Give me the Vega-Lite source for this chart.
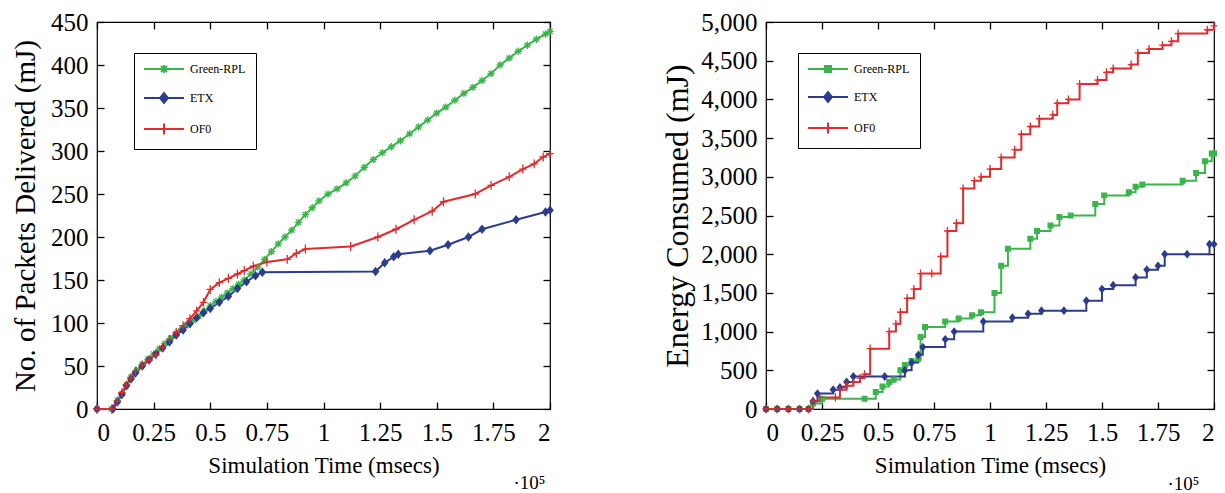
{
  "$schema": "https://vega.github.io/schema/vega-lite/v6.json",
  "padding": {"top": 9, "left": 10, "right": 5, "bottom": 0},
  "background": "#ffffff",
  "spacing": 104,
  "config": {
    "view": {"stroke": "#000000", "strokeWidth": 1.2},
    "font": "Liberation Serif",
    "axis": {
      "labelFont": "Liberation Serif", "titleFont": "Liberation Serif",
      "labelFontSize": 25, "titleFontSize": 23, "titleFontWeight": "normal",
      "labelColor": "#000000", "titleColor": "#000000", "tickColor": "#000000",
      "grid": false, "domain": false, "ticks": true, "tickSize": -7, "tickWidth": 1.3, "tickOpacity": 1, "offset": 0, "zindex": 1
    },
    "legend": {
      "labelFont": "Liberation Serif", "labelFontSize": 12, "labelColor": "#000000",
      "strokeColor": "#000000", "fillColor": "#ffffff", "padding": 10,
      "symbolSize": 100, "symbolOffset": 14, "labelOffset": 20, "rowPadding": 12, "symbolStrokeWidth": 2
    }
  },
  "datasets": {
    "packets": [
      {"series": "Green-RPL", "t": 0, "v": 0}, {"series": "Green-RPL", "t": 0.063, "v": 0}, {"series": "Green-RPL", "t": 0.09, "v": 10}, {"series": "Green-RPL", "t": 0.11, "v": 18}, {"series": "Green-RPL", "t": 0.13, "v": 28}, {"series": "Green-RPL", "t": 0.15, "v": 37}, {"series": "Green-RPL", "t": 0.175, "v": 45}, {"series": "Green-RPL", "t": 0.2, "v": 52}, {"series": "Green-RPL", "t": 0.225, "v": 58}, {"series": "Green-RPL", "t": 0.25, "v": 64}, {"series": "Green-RPL", "t": 0.275, "v": 70}, {"series": "Green-RPL", "t": 0.3, "v": 76}, {"series": "Green-RPL", "t": 0.325, "v": 82}, {"series": "Green-RPL", "t": 0.35, "v": 88}, {"series": "Green-RPL", "t": 0.375, "v": 93}, {"series": "Green-RPL", "t": 0.4, "v": 98}, {"series": "Green-RPL", "t": 0.425, "v": 103}, {"series": "Green-RPL", "t": 0.45, "v": 108}, {"series": "Green-RPL", "t": 0.475, "v": 114}, {"series": "Green-RPL", "t": 0.5, "v": 120}, {"series": "Green-RPL", "t": 0.525, "v": 125}, {"series": "Green-RPL", "t": 0.55, "v": 130}, {"series": "Green-RPL", "t": 0.575, "v": 135}, {"series": "Green-RPL", "t": 0.6, "v": 140}, {"series": "Green-RPL", "t": 0.625, "v": 145}, {"series": "Green-RPL", "t": 0.65, "v": 150}, {"series": "Green-RPL", "t": 0.68, "v": 157}, {"series": "Green-RPL", "t": 0.71, "v": 165}, {"series": "Green-RPL", "t": 0.74, "v": 174}, {"series": "Green-RPL", "t": 0.77, "v": 183}, {"series": "Green-RPL", "t": 0.8, "v": 192}, {"series": "Green-RPL", "t": 0.83, "v": 200}, {"series": "Green-RPL", "t": 0.86, "v": 208}, {"series": "Green-RPL", "t": 0.89, "v": 217}, {"series": "Green-RPL", "t": 0.92, "v": 226}, {"series": "Green-RPL", "t": 0.95, "v": 234}, {"series": "Green-RPL", "t": 0.98, "v": 242}, {"series": "Green-RPL", "t": 1.02, "v": 250}, {"series": "Green-RPL", "t": 1.06, "v": 256}, {"series": "Green-RPL", "t": 1.1, "v": 263}, {"series": "Green-RPL", "t": 1.14, "v": 271}, {"series": "Green-RPL", "t": 1.18, "v": 281}, {"series": "Green-RPL", "t": 1.22, "v": 290}, {"series": "Green-RPL", "t": 1.26, "v": 298}, {"series": "Green-RPL", "t": 1.3, "v": 305}, {"series": "Green-RPL", "t": 1.34, "v": 312}, {"series": "Green-RPL", "t": 1.38, "v": 320}, {"series": "Green-RPL", "t": 1.42, "v": 328}, {"series": "Green-RPL", "t": 1.46, "v": 336}, {"series": "Green-RPL", "t": 1.5, "v": 344}, {"series": "Green-RPL", "t": 1.54, "v": 351}, {"series": "Green-RPL", "t": 1.58, "v": 359}, {"series": "Green-RPL", "t": 1.62, "v": 367}, {"series": "Green-RPL", "t": 1.66, "v": 374}, {"series": "Green-RPL", "t": 1.7, "v": 382}, {"series": "Green-RPL", "t": 1.74, "v": 390}, {"series": "Green-RPL", "t": 1.78, "v": 400}, {"series": "Green-RPL", "t": 1.82, "v": 408}, {"series": "Green-RPL", "t": 1.86, "v": 416}, {"series": "Green-RPL", "t": 1.9, "v": 423}, {"series": "Green-RPL", "t": 1.94, "v": 430}, {"series": "Green-RPL", "t": 1.98, "v": 436}, {"series": "Green-RPL", "t": 2.0, "v": 439},
      {"series": "ETX", "t": 0, "v": 0}, {"series": "ETX", "t": 0.07, "v": 0}, {"series": "ETX", "t": 0.09, "v": 8}, {"series": "ETX", "t": 0.11, "v": 17}, {"series": "ETX", "t": 0.13, "v": 27}, {"series": "ETX", "t": 0.15, "v": 35}, {"series": "ETX", "t": 0.17, "v": 42}, {"series": "ETX", "t": 0.2, "v": 50}, {"series": "ETX", "t": 0.23, "v": 57}, {"series": "ETX", "t": 0.26, "v": 64}, {"series": "ETX", "t": 0.29, "v": 71}, {"series": "ETX", "t": 0.32, "v": 78}, {"series": "ETX", "t": 0.35, "v": 86}, {"series": "ETX", "t": 0.38, "v": 92}, {"series": "ETX", "t": 0.41, "v": 99}, {"series": "ETX", "t": 0.44, "v": 106}, {"series": "ETX", "t": 0.47, "v": 112}, {"series": "ETX", "t": 0.5, "v": 117}, {"series": "ETX", "t": 0.54, "v": 124}, {"series": "ETX", "t": 0.58, "v": 131}, {"series": "ETX", "t": 0.62, "v": 140}, {"series": "ETX", "t": 0.66, "v": 148}, {"series": "ETX", "t": 0.7, "v": 155}, {"series": "ETX", "t": 0.73, "v": 159}, {"series": "ETX", "t": 1.23, "v": 160}, {"series": "ETX", "t": 1.27, "v": 170}, {"series": "ETX", "t": 1.31, "v": 177}, {"series": "ETX", "t": 1.33, "v": 180}, {"series": "ETX", "t": 1.47, "v": 184}, {"series": "ETX", "t": 1.55, "v": 191}, {"series": "ETX", "t": 1.64, "v": 200}, {"series": "ETX", "t": 1.7, "v": 209}, {"series": "ETX", "t": 1.85, "v": 220}, {"series": "ETX", "t": 1.98, "v": 229}, {"series": "ETX", "t": 2.0, "v": 231},
      {"series": "OF0", "t": 0, "v": 0}, {"series": "OF0", "t": 0.065, "v": 0}, {"series": "OF0", "t": 0.09, "v": 9}, {"series": "OF0", "t": 0.11, "v": 19}, {"series": "OF0", "t": 0.13, "v": 28}, {"series": "OF0", "t": 0.15, "v": 36}, {"series": "OF0", "t": 0.17, "v": 44}, {"series": "OF0", "t": 0.2, "v": 51}, {"series": "OF0", "t": 0.23, "v": 57}, {"series": "OF0", "t": 0.26, "v": 63}, {"series": "OF0", "t": 0.29, "v": 72}, {"series": "OF0", "t": 0.32, "v": 81}, {"series": "OF0", "t": 0.35, "v": 89}, {"series": "OF0", "t": 0.38, "v": 97}, {"series": "OF0", "t": 0.41, "v": 105}, {"series": "OF0", "t": 0.44, "v": 114}, {"series": "OF0", "t": 0.47, "v": 124}, {"series": "OF0", "t": 0.5, "v": 139}, {"series": "OF0", "t": 0.54, "v": 147}, {"series": "OF0", "t": 0.58, "v": 152}, {"series": "OF0", "t": 0.62, "v": 157}, {"series": "OF0", "t": 0.65, "v": 161}, {"series": "OF0", "t": 0.69, "v": 166}, {"series": "OF0", "t": 0.75, "v": 171}, {"series": "OF0", "t": 0.84, "v": 174}, {"series": "OF0", "t": 0.88, "v": 181}, {"series": "OF0", "t": 0.92, "v": 186}, {"series": "OF0", "t": 1.12, "v": 189}, {"series": "OF0", "t": 1.24, "v": 200}, {"series": "OF0", "t": 1.32, "v": 209}, {"series": "OF0", "t": 1.4, "v": 220}, {"series": "OF0", "t": 1.48, "v": 230}, {"series": "OF0", "t": 1.53, "v": 241}, {"series": "OF0", "t": 1.67, "v": 250}, {"series": "OF0", "t": 1.74, "v": 260}, {"series": "OF0", "t": 1.82, "v": 270}, {"series": "OF0", "t": 1.88, "v": 279}, {"series": "OF0", "t": 1.93, "v": 285}, {"series": "OF0", "t": 1.97, "v": 293}, {"series": "OF0", "t": 2.0, "v": 297}
    ],
    "energy": [
      {"series": "Green-RPL", "t": 0, "v": 0}, {"series": "Green-RPL", "t": 0.05, "v": 0}, {"series": "Green-RPL", "t": 0.1, "v": 0}, {"series": "Green-RPL", "t": 0.15, "v": 0}, {"series": "Green-RPL", "t": 0.19, "v": 0}, {"series": "Green-RPL", "t": 0.21, "v": 70}, {"series": "Green-RPL", "t": 0.25, "v": 133}, {"series": "Green-RPL", "t": 0.44, "v": 133}, {"series": "Green-RPL", "t": 0.49, "v": 220}, {"series": "Green-RPL", "t": 0.52, "v": 290}, {"series": "Green-RPL", "t": 0.55, "v": 350}, {"series": "Green-RPL", "t": 0.57, "v": 380}, {"series": "Green-RPL", "t": 0.6, "v": 500}, {"series": "Green-RPL", "t": 0.62, "v": 570}, {"series": "Green-RPL", "t": 0.65, "v": 620}, {"series": "Green-RPL", "t": 0.68, "v": 650}, {"series": "Green-RPL", "t": 0.69, "v": 930}, {"series": "Green-RPL", "t": 0.71, "v": 1060}, {"series": "Green-RPL", "t": 0.8, "v": 1130}, {"series": "Green-RPL", "t": 0.86, "v": 1170}, {"series": "Green-RPL", "t": 0.92, "v": 1210}, {"series": "Green-RPL", "t": 0.96, "v": 1250}, {"series": "Green-RPL", "t": 1.02, "v": 1500}, {"series": "Green-RPL", "t": 1.05, "v": 1850}, {"series": "Green-RPL", "t": 1.08, "v": 2070}, {"series": "Green-RPL", "t": 1.18, "v": 2200}, {"series": "Green-RPL", "t": 1.21, "v": 2300}, {"series": "Green-RPL", "t": 1.27, "v": 2370}, {"series": "Green-RPL", "t": 1.31, "v": 2480}, {"series": "Green-RPL", "t": 1.36, "v": 2500}, {"series": "Green-RPL", "t": 1.47, "v": 2650}, {"series": "Green-RPL", "t": 1.51, "v": 2760}, {"series": "Green-RPL", "t": 1.62, "v": 2800}, {"series": "Green-RPL", "t": 1.65, "v": 2870}, {"series": "Green-RPL", "t": 1.68, "v": 2900}, {"series": "Green-RPL", "t": 1.86, "v": 2950}, {"series": "Green-RPL", "t": 1.92, "v": 3050}, {"series": "Green-RPL", "t": 1.96, "v": 3200}, {"series": "Green-RPL", "t": 1.99, "v": 3300}, {"series": "Green-RPL", "t": 2.0, "v": 3300},
      {"series": "ETX", "t": 0, "v": 0}, {"series": "ETX", "t": 0.05, "v": 0}, {"series": "ETX", "t": 0.1, "v": 0}, {"series": "ETX", "t": 0.15, "v": 0}, {"series": "ETX", "t": 0.19, "v": 0}, {"series": "ETX", "t": 0.21, "v": 100}, {"series": "ETX", "t": 0.23, "v": 200}, {"series": "ETX", "t": 0.3, "v": 250}, {"series": "ETX", "t": 0.33, "v": 280}, {"series": "ETX", "t": 0.36, "v": 350}, {"series": "ETX", "t": 0.39, "v": 420}, {"series": "ETX", "t": 0.53, "v": 420}, {"series": "ETX", "t": 0.62, "v": 500}, {"series": "ETX", "t": 0.65, "v": 600}, {"series": "ETX", "t": 0.68, "v": 700}, {"series": "ETX", "t": 0.7, "v": 800}, {"series": "ETX", "t": 0.8, "v": 900}, {"series": "ETX", "t": 0.84, "v": 1000}, {"series": "ETX", "t": 0.97, "v": 1130}, {"series": "ETX", "t": 1.1, "v": 1180}, {"series": "ETX", "t": 1.17, "v": 1230}, {"series": "ETX", "t": 1.23, "v": 1270}, {"series": "ETX", "t": 1.33, "v": 1270}, {"series": "ETX", "t": 1.43, "v": 1400}, {"series": "ETX", "t": 1.5, "v": 1550}, {"series": "ETX", "t": 1.55, "v": 1600}, {"series": "ETX", "t": 1.65, "v": 1700}, {"series": "ETX", "t": 1.7, "v": 1800}, {"series": "ETX", "t": 1.75, "v": 1850}, {"series": "ETX", "t": 1.78, "v": 2000}, {"series": "ETX", "t": 1.88, "v": 2000}, {"series": "ETX", "t": 1.98, "v": 2130}, {"series": "ETX", "t": 2.0, "v": 2130},
      {"series": "OF0", "t": 0, "v": 0}, {"series": "OF0", "t": 0.05, "v": 0}, {"series": "OF0", "t": 0.1, "v": 0}, {"series": "OF0", "t": 0.15, "v": 0}, {"series": "OF0", "t": 0.19, "v": 0}, {"series": "OF0", "t": 0.21, "v": 100}, {"series": "OF0", "t": 0.24, "v": 150}, {"series": "OF0", "t": 0.31, "v": 150}, {"series": "OF0", "t": 0.33, "v": 250}, {"series": "OF0", "t": 0.36, "v": 300}, {"series": "OF0", "t": 0.39, "v": 350}, {"series": "OF0", "t": 0.42, "v": 400}, {"series": "OF0", "t": 0.44, "v": 450}, {"series": "OF0", "t": 0.465, "v": 780}, {"series": "OF0", "t": 0.55, "v": 1000}, {"series": "OF0", "t": 0.58, "v": 1100}, {"series": "OF0", "t": 0.6, "v": 1250}, {"series": "OF0", "t": 0.63, "v": 1430}, {"series": "OF0", "t": 0.66, "v": 1550}, {"series": "OF0", "t": 0.69, "v": 1750}, {"series": "OF0", "t": 0.74, "v": 1750}, {"series": "OF0", "t": 0.78, "v": 1970}, {"series": "OF0", "t": 0.81, "v": 2300}, {"series": "OF0", "t": 0.85, "v": 2400}, {"series": "OF0", "t": 0.88, "v": 2850}, {"series": "OF0", "t": 0.93, "v": 2950}, {"series": "OF0", "t": 0.96, "v": 3000}, {"series": "OF0", "t": 1.0, "v": 3100}, {"series": "OF0", "t": 1.05, "v": 3250}, {"series": "OF0", "t": 1.11, "v": 3350}, {"series": "OF0", "t": 1.14, "v": 3550}, {"series": "OF0", "t": 1.18, "v": 3650}, {"series": "OF0", "t": 1.22, "v": 3750}, {"series": "OF0", "t": 1.28, "v": 3800}, {"series": "OF0", "t": 1.3, "v": 3950}, {"series": "OF0", "t": 1.35, "v": 4000}, {"series": "OF0", "t": 1.4, "v": 4200}, {"series": "OF0", "t": 1.48, "v": 4250}, {"series": "OF0", "t": 1.52, "v": 4350}, {"series": "OF0", "t": 1.55, "v": 4400}, {"series": "OF0", "t": 1.63, "v": 4450}, {"series": "OF0", "t": 1.66, "v": 4600}, {"series": "OF0", "t": 1.71, "v": 4650}, {"series": "OF0", "t": 1.77, "v": 4700}, {"series": "OF0", "t": 1.81, "v": 4750}, {"series": "OF0", "t": 1.84, "v": 4850}, {"series": "OF0", "t": 1.97, "v": 4900}, {"series": "OF0", "t": 2.0, "v": 4950}
    ]
  },
  "hconcat": [
    {
      "width": 453, "height": 387,
      "data": {"name": "packets"},
      "layer": [
        {
          "mark": {"type": "line", "strokeWidth": 2},
          "encoding": {
            "x": {"field": "t", "type": "quantitative", "scale": {"domain": [0, 2], "nice": false},
                  "axis": {"orient": "bottom", "values": [0, 0.25, 0.5, 0.75, 1, 1.25, 1.5, 1.75, 2], "labelExpr": "datum.value + ''", "labelPadding": 18, "title": "Simulation Time (msecs)", "titlePadding": 9}},
            "y": {"field": "v", "type": "quantitative", "scale": {"domain": [0, 450], "nice": false},
                  "axis": {"orient": "left", "values": [0, 50, 100, 150, 200, 250, 300, 350, 400, 450], "labelPadding": 16, "title": "No. of Packets Delivered (mJ)", "titleFontSize": 29, "titlePadding": 10}},
            "color": {"field": "series", "type": "nominal",
                      "scale": {"domain": ["Green-RPL", "ETX", "OF0"], "range": ["#3bb54b", "#2c3c8e", "#e32a2c"]},
                      "legend": {"title": null, "orient": "none", "legendX": 37, "legendY": 31,
                        "encode": {"symbols": {"update": {
                          "shape": {"signal": "datum.value === 'ETX' ? 'M-4,0H4M-0.8,0L0,-1L0.8,0L0,1Z' : datum.value === 'OF0' ? 'M-4,0H4M0,-1.1V1.1' : 'M-4,0H4M-0.8,0H0.8M0,-0.8V0.8M-0.6,-0.6L0.6,0.6M-0.6,0.6L0.6,-0.6'"},
                          "fill": {"signal": "datum.value === 'ETX' ? '#2c3c8e' : datum.value === 'OF0' ? '#e32a2c' : '#3bb54b'"},
                          "stroke": {"signal": "datum.value === 'ETX' ? '#2c3c8e' : datum.value === 'OF0' ? '#e32a2c' : '#3bb54b'"},
                          "strokeWidth": {"value": 2}, "opacity": {"value": 1}}}}}}
          }
        },
        {
          "mark": {"type": "point", "filled": true, "size": 55, "strokeWidth": 1.3, "opacity": 1},
          "encoding": {
            "x": {"field": "t", "type": "quantitative",
                  "axis": {"orient": "top", "values": [0, 0.25, 0.5, 0.75, 1, 1.25, 1.5, 1.75, 2], "labels": false, "title": null}},
            "y": {"field": "v", "type": "quantitative",
                  "axis": {"orient": "right", "values": [0, 50, 100, 150, 200, 250, 300, 350, 400, 450], "labels": false, "title": "·10⁵", "titleAngle": 0, "titleFontSize": 19, "titleX": -21, "titleY": 466, "titleAlign": "center", "titleBaseline": "alphabetic"}},
            "color": {"field": "series", "type": "nominal", "scale": {"domain": ["Green-RPL", "ETX", "OF0"], "range": ["#3bb54b", "#2c3c8e", "#e32a2c"]}},
            "stroke": {"field": "series", "type": "nominal", "scale": {"domain": ["Green-RPL", "ETX", "OF0"], "range": ["#3bb54b", "#2c3c8e", "#e32a2c"]}, "legend": null},
            "shape": {"condition": [{"test": "datum.series === 'ETX'", "value": "M-0.8,0L0,-1L0.8,0L0,1Z"}, {"test": "datum.series === 'OF0'", "value": "M-1,0H1M0,-1.2V1.2"}], "value": "M-1,0H1M0,-1V1M-0.7,-0.7L0.7,0.7M-0.7,0.7L0.7,-0.7"}
          }
        }
      ],
      "resolve": {"axis": {"x": "independent", "y": "independent"}}
    },
    {
      "width": 448, "height": 387,
      "data": {"name": "energy"},
      "layer": [
        {
          "mark": {"type": "line", "strokeWidth": 2, "interpolate": "step-after"},
          "encoding": {
            "x": {"field": "t", "type": "quantitative", "scale": {"domain": [0, 2], "nice": false},
                  "axis": {"orient": "bottom", "values": [0, 0.25, 0.5, 0.75, 1, 1.25, 1.5, 1.75, 2], "labelExpr": "datum.value + ''", "labelPadding": 18, "title": "Simulation Time (msecs)", "titlePadding": 9}},
            "y": {"field": "v", "type": "quantitative", "scale": {"domain": [0, 5000], "nice": false},
                  "axis": {"orient": "left", "values": [0, 500, 1000, 1500, 2000, 2500, 3000, 3500, 4000, 4500, 5000], "format": ",.0f", "labelPadding": 16, "title": "Energy Consumed (mJ)", "titleFontSize": 32, "titlePadding": 6}},
            "color": {"field": "series", "type": "nominal",
                      "scale": {"domain": ["Green-RPL", "ETX", "OF0"], "range": ["#3bb54b", "#2c3c8e", "#e32a2c"]},
                      "legend": {"title": null, "orient": "none", "legendX": 32, "legendY": 31,
                        "encode": {"symbols": {"update": {
                          "shape": {"signal": "datum.value === 'ETX' ? 'M-4,0H4M-0.8,0L0,-1L0.8,0L0,1Z' : datum.value === 'OF0' ? 'M-4,0H4M0,-1.1V1.1' : 'M-4,0H4M-0.6,-0.6H0.6V0.6H-0.6Z'"},
                          "fill": {"signal": "datum.value === 'ETX' ? '#2c3c8e' : datum.value === 'OF0' ? '#e32a2c' : '#3bb54b'"},
                          "stroke": {"signal": "datum.value === 'ETX' ? '#2c3c8e' : datum.value === 'OF0' ? '#e32a2c' : '#3bb54b'"},
                          "strokeWidth": {"value": 2}, "opacity": {"value": 1}}}}}}
          }
        },
        {
          "mark": {"type": "point", "filled": true, "size": 45, "strokeWidth": 1.3, "opacity": 1},
          "encoding": {
            "x": {"field": "t", "type": "quantitative",
                  "axis": {"orient": "top", "values": [0, 0.25, 0.5, 0.75, 1, 1.25, 1.5, 1.75, 2], "labels": false, "title": null}},
            "y": {"field": "v", "type": "quantitative",
                  "axis": {"orient": "right", "values": [0, 500, 1000, 1500, 2000, 2500, 3000, 3500, 4000, 4500, 5000], "labels": false, "title": "·10⁵", "titleAngle": 0, "titleFontSize": 19, "titleX": -31, "titleY": 467, "titleAlign": "center", "titleBaseline": "alphabetic"}},
            "color": {"field": "series", "type": "nominal", "scale": {"domain": ["Green-RPL", "ETX", "OF0"], "range": ["#3bb54b", "#2c3c8e", "#e32a2c"]}},
            "stroke": {"field": "series", "type": "nominal", "scale": {"domain": ["Green-RPL", "ETX", "OF0"], "range": ["#3bb54b", "#2c3c8e", "#e32a2c"]}, "legend": null},
            "shape": {"condition": [{"test": "datum.series === 'ETX'", "value": "M-0.8,0L0,-1L0.8,0L0,1Z"}, {"test": "datum.series === 'OF0'", "value": "M-1,0H1M0,-1.2V1.2"}], "value": "M-0.7,-0.7H0.7V0.7H-0.7Z"}
          }
        }
      ],
      "resolve": {"axis": {"x": "independent", "y": "independent"}}
    }
  ],
  "resolve": {"scale": {"x": "independent", "y": "independent", "color": "independent", "stroke": "independent"}, "legend": {"color": "independent", "stroke": "independent"}}
}
